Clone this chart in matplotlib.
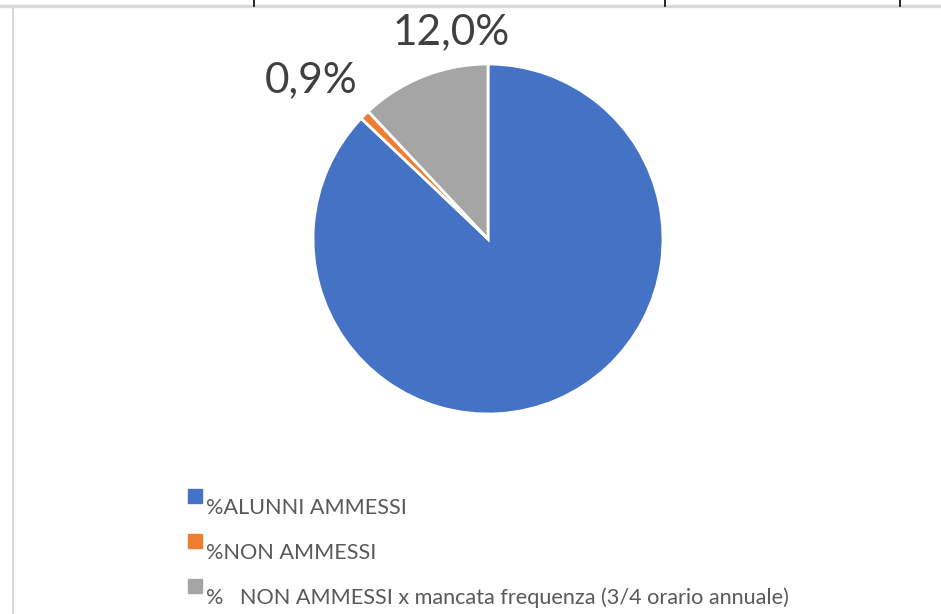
import matplotlib
matplotlib.use("Agg")
import matplotlib.pyplot as plt
import matplotlib.transforms as mtransforms
from matplotlib.lines import Line2D
import numpy as np

categories = ["%ALUNNI AMMESSI", "%NON AMMESSI",
              "%   NON AMMESSI x mancata frequenza (3/4 orario annuale)"]
values = [87.1, 0.9, 12.0]
labels = ["", "0,9%", "12,0%"]
colors = ["#4472C4", "#ED7D31", "#A5A5A5"]

plt.rcParams['font.family'] = ['Lato', 'DejaVu Sans']

W, H = 941, 614
fig = plt.figure(figsize=(W / 100, H / 100), dpi=100)

cx, cy, R = 488, 239, 175
ax = fig.add_axes([(cx - R) / W, (H - cy - R) / H, 2 * R / W, 2 * R / H])
wedges, _ = ax.pie(values, colors=colors, startangle=90, counterclock=False,
                   radius=1, wedgeprops=dict(edgecolor="white", linewidth=2))
ax.set_xlim(-1, 1)
ax.set_ylim(-1, 1)
ax.set_aspect("equal")
ax.axis("off")

# data labels (Excel best-fit placement: angle in degrees, radius)
label_pos = {1: (138, 1.36), 2: (100, 1.20)}
for i, (ang, r) in label_pos.items():
    a = np.deg2rad(ang)
    ax.text(r * np.cos(a), r * np.sin(a), labels[i], ha="center", va="center",
            fontsize=30.5, color="#404040", clip_on=False)

# legend
handles = [Line2D([], [], marker="s", linestyle="none", markersize=10,
                  markerfacecolor=c, markeredgecolor=c) for c in colors]
leg = fig.legend(handles, categories, loc="upper left",
                 bbox_to_anchor=(187 / W, 1 - 498 / H), frameon=False,
                 fontsize=15.6, labelcolor="#595959", handlelength=0.7,
                 handletextpad=0.2, labelspacing=1.14, borderpad=0,
                 borderaxespad=0)
for h in leg.legend_handles:
    h.set_transform(h.get_transform() + mtransforms.Affine2D().translate(0, 10))

# surrounding table borders
def fx(x):
    return x / W

def fy(y):
    return 1 - y / H

fig.add_artist(Line2D([0, 1], [fy(6), fy(6)], color="#d9d9d9", linewidth=2.5,
                      transform=fig.transFigure))
for tx in [254, 665, 900]:
    fig.add_artist(Line2D([fx(tx), fx(tx)], [fy(0), fy(6)], color="black",
                          linewidth=1.2, transform=fig.transFigure))
fig.add_artist(Line2D([fx(13), fx(13)], [fy(8), fy(614)], color="#d9d9d9",
                      linewidth=1.5, transform=fig.transFigure))

fig.savefig("out.png", dpi=100)
